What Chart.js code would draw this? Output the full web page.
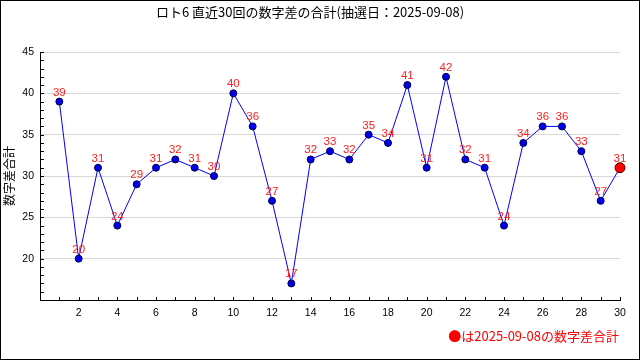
<!DOCTYPE html>
<html>
<head>
<meta charset="utf-8">
<script src="https://cdn.jsdelivr.net/npm/chart.js@4.4.1/dist/chart.umd.min.js"></script>
<style>
html,body{margin:0;padding:0;background:#fff;}
canvas{display:block;}
</style>
</head>
<body>
<canvas id="c" width="640" height="360"></canvas>
<script>
const titleText = 'ロト6 直近30回の数字差の合計(抽選日：2025-09-08)';
const yAxisTitle = '数字差合計';
const legendText = '●は2025-09-08の数字差合計';
const drawNumbers = [1,2,3,4,5,6,7,8,9,10,11,12,13,14,15,16,17,18,19,20,21,22,23,24,25,26,27,28,29,30];
const diffSums = [39,20,31,24,29,31,32,31,30,40,36,27,17,32,33,32,35,34,41,31,42,32,31,24,34,36,36,33,27,31];
const yMin = 15, yMax = 45, yStep = 5;
const xMin = 0, xMax = 30, xStep = 2;

const points = drawNumbers.map((n, i) => ({x: n, y: diffSums[i]}));
const lastIdx = points.length - 1;
const pointColors = points.map((p, i) => i === lastIdx ? '#ff0000' : '#0000ee');
const pointBorders = points.map((p, i) => i === lastIdx ? '#550000' : '#000044');
const pointRadii = points.map((p, i) => i === lastIdx ? 5 : 3.5);

const sansFont = '"Liberation Sans", Arial, sans-serif';
const cjkFont = '"Noto Sans CJK JP", sans-serif';

const framePlugin = {
  id: 'frame',
  beforeDraw(chart) {
    const ctx = chart.ctx;
    ctx.save();
    ctx.fillStyle = '#fff';
    ctx.fillRect(0, 0, chart.width, chart.height);
    ctx.restore();
  },
  afterDraw(chart) {
    const ctx = chart.ctx;
    ctx.save();
    ctx.strokeStyle = '#000';
    ctx.lineWidth = 1;
    ctx.strokeRect(0.5, 0.5, chart.width - 1, chart.height - 1);
    ctx.font = '13px ' + cjkFont;
    ctx.fillStyle = '#ff0000';
    ctx.textAlign = 'right';
    ctx.textBaseline = 'middle';
    ctx.fillText(legendText, 619, 336);
    ctx.restore();
  }
};

const minorTicksPlugin = {
  id: 'minorTicks',
  afterDatasetsDraw(chart) {
    const ctx = chart.ctx;
    const xs = chart.scales.x, ys = chart.scales.y;
    ctx.save();
    ctx.strokeStyle = '#000';
    ctx.lineWidth = 1;
    ctx.beginPath();
    for (let v = yMin; v <= yMax; v++) {
      const py = Math.round(ys.getPixelForValue(v)) + 0.5;
      ctx.moveTo(xs.left, py);
      ctx.lineTo(xs.left + 4, py);
    }
    for (let v = xMin; v <= xMax; v++) {
      const px = Math.round(xs.getPixelForValue(v)) + 0.5;
      ctx.moveTo(px, ys.bottom);
      ctx.lineTo(px, ys.bottom - 3);
    }
    ctx.stroke();
    ctx.restore();
  }
};

const labelPlugin = {
  id: 'valueLabels',
  afterDatasetsDraw(chart) {
    const ctx = chart.ctx;
    const meta = chart.getDatasetMeta(0);
    ctx.save();
    ctx.font = '11.5px ' + sansFont;
    ctx.fillStyle = '#ff2020';
    ctx.textAlign = 'center';
    ctx.textBaseline = 'alphabetic';
    meta.data.forEach((el, i) => {
      ctx.fillText(String(diffSums[i]), el.x, el.y - 6);
    });
    ctx.restore();
  }
};

new Chart(document.getElementById('c'), {
  type: 'line',
  data: {
    datasets: [{
      data: points,
      borderColor: '#0000ff',
      borderWidth: 1,
      tension: 0,
      clip: false,
      pointBackgroundColor: pointColors,
      pointBorderColor: pointBorders,
      pointBorderWidth: 1,
      pointRadius: pointRadii,
      fill: false
    }]
  },
  options: {
    responsive: false,
    animation: false,
    layout: {padding: {top: 0, right: 20, bottom: 0, left: 0}},
    plugins: {
      legend: {display: false},
      tooltip: {enabled: false},
      title: {
        display: true,
        text: titleText,
        color: '#000',
        font: {family: cjkFont, size: 13, weight: 'normal'},
        padding: {top: 4.5, bottom: 31.9}
      }
    },
    scales: {
      x: {
        type: 'linear',
        min: xMin, max: xMax,
        afterFit(s) { s.height = 60; },
        border: {display: true, color: '#000', width: 1},
        grid: {display: false, drawTicks: false},
        ticks: {
          stepSize: xStep,
          padding: 7,
          color: '#000',
          font: {family: sansFont, size: 10.5},
          maxRotation: 0,
          autoSkip: false,
          callback: v => v === xMin ? '' : String(v)
        }
      },
      y: {
        min: yMin, max: yMax,
        afterFit(s) { s.width = 40; },
        border: {display: true, color: '#000', width: 1},
        grid: {
          color: ctx => ctx.tick && ctx.tick.value === yMin ? 'rgba(0,0,0,0)' : '#d8d8d8',
          drawTicks: false,
          lineWidth: 1
        },
        ticks: {
          stepSize: yStep,
          padding: 6,
          color: '#000',
          font: {family: sansFont, size: 10.5},
          callback: v => v === yMin ? '' : String(v)
        },
        title: {
          display: true,
          text: yAxisTitle,
          color: '#000',
          font: {family: cjkFont, size: 12},
          padding: {top: 2, bottom: 0}
        }
      }
    }
  },
  plugins: [framePlugin, minorTicksPlugin, labelPlugin]
});
</script>
</body>
</html>
